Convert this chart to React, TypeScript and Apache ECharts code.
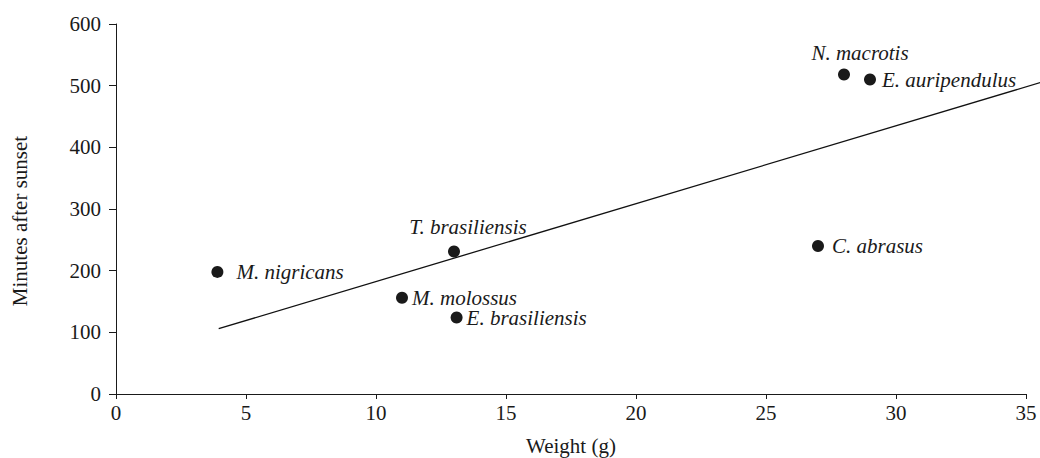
import React, { useEffect, useRef } from "react";
import * as echarts from "echarts";

const species = ["M. nigricans", "T. brasiliensis", "M. molossus", "E. brasiliensis", "C. abrasus", "N. macrotis", "E. auripendulus"];
const weights = [3.9, 13, 11, 13.1, 27, 28, 29];
const minutes = [198, 231, 156, 124, 240, 518, 510];
const trendX = [3.95, 35.55];
const trendY = [106, 505];
const xTicks = [0, 5, 10, 15, 20, 25, 30, 35];
const yTicks = [0, 100, 200, 300, 400, 500, 600];

const labelPos: Record<string, any> = {
  "M. nigricans": { position: "right", distance: 13 },
  "T. brasiliensis": { position: "top", distance: 8, offset: [14, 0] },
  "M. molossus": { position: "right", distance: 4 },
  "E. brasiliensis": { position: "right", distance: 4 },
  "C. abrasus": { position: "right", distance: 8 },
  "N. macrotis": { position: "top", distance: 5, offset: [16, 0] },
  "E. auripendulus": { position: "right", distance: 6 },
};

export default function App() {
  const ref = useRef<HTMLDivElement>(null);
  useEffect(() => {
    const chart = echarts.init(ref.current!, null, { renderer: "svg" });
    const font = "Liberation Serif";
    const ink = "#1a1a1a";
    const xMax = xTicks[xTicks.length - 1];
    const yMax = yTicks[yTicks.length - 1];
    // the trend line runs a little past the last tick, to the page edge
    const gridW = 1040 - 116 - 14;
    const extRight = 14 - ((trendX[1] - xMax) / xMax) * gridW;
    chart.setOption({
      animation: false,
      backgroundColor: "#fff",
      textStyle: { fontFamily: font },
      grid: [
        { left: 116, top: 24, right: 14, bottom: 64, containLabel: false, outerBoundsMode: "none" },
        { left: 116, top: 24, right: extRight, bottom: 64, containLabel: false, outerBoundsMode: "none" },
      ],
      xAxis: [
        {
          type: "value",
          gridIndex: 0,
          min: xTicks[0],
          max: xMax,
          interval: 5,
          name: "Weight (g)",
          nameLocation: "middle",
          nameGap: 41,
          nameTextStyle: { fontFamily: font, fontSize: 21, color: ink },
          axisLine: { show: true, lineStyle: { color: ink, width: 1 } },
          axisTick: { show: true, inside: false, length: 5, lineStyle: { color: ink } },
          axisLabel: { fontFamily: font, fontSize: 21, color: ink, margin: 8 },
          splitLine: { show: false },
        },
        {
          type: "value",
          gridIndex: 1,
          min: 0,
          max: trendX[1],
          show: false,
          splitLine: { show: false },
        },
      ],
      yAxis: [
        {
          type: "value",
          gridIndex: 0,
          min: yTicks[0],
          max: yMax,
          interval: 100,
          name: "Minutes after sunset",
          nameLocation: "middle",
          nameGap: 86,
          nameRotate: 90,
          nameTextStyle: { fontFamily: font, fontSize: 21, color: ink, padding: [0, 24, 0, 0] },
          axisLine: { show: true, lineStyle: { color: ink, width: 1 } },
          axisTick: { show: true, inside: false, length: 7, lineStyle: { color: ink } },
          axisLabel: { fontFamily: font, fontSize: 21, color: ink, margin: 15 },
          splitLine: { show: false },
        },
        {
          type: "value",
          gridIndex: 1,
          min: yTicks[0],
          max: yMax,
          show: false,
          splitLine: { show: false },
        },
      ],
      series: [
        {
          type: "line",
          xAxisIndex: 1,
          yAxisIndex: 1,
          data: trendX.map((x, i) => [x, trendY[i]]),
          showSymbol: false,
          symbol: "none",
          clip: false,
          lineStyle: { color: "#111", width: 1.3 },
          z: 1,
        },
        {
          type: "scatter",
          symbolSize: 12,
          itemStyle: { color: ink, opacity: 1 },
          z: 2,
          data: species.map((s, i) => ({
            value: [weights[i], minutes[i]],
            name: s,
            label: {
              show: true,
              formatter: s,
              fontFamily: font,
              fontStyle: "italic",
              fontSize: 21,
              color: ink,
              ...labelPos[s],
            },
          })),
        },
      ],
    });
    return () => chart.dispose();
  }, []);
  return <div ref={ref} style={{ width: 1040, height: 458, position: "absolute", left: 0, top: 0 }} />;
}
